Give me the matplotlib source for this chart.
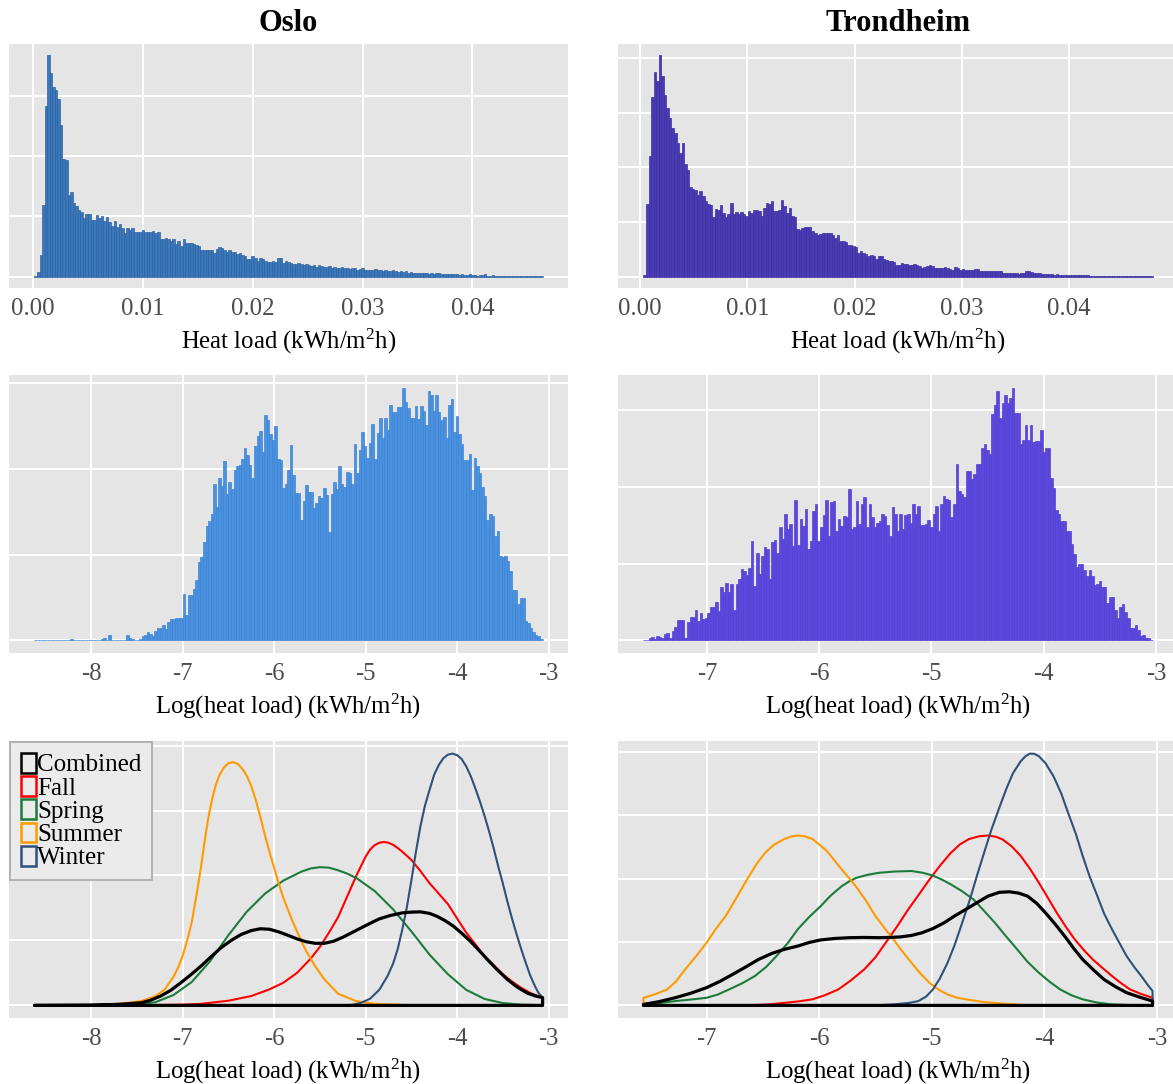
import matplotlib
matplotlib.use("Agg")
import matplotlib.pyplot as plt
import numpy as np
from matplotlib.patches import Patch
from matplotlib.ticker import MultipleLocator, FixedLocator, FormatStrFormatter

plt.rcParams['font.family'] = ['Liberation Serif', 'DejaVu Serif']
plt.rcParams['axes.unicode_minus'] = False
plt.rcParams['mathtext.fontset'] = 'custom'
plt.rcParams['mathtext.rm'] = 'Liberation Serif'

# ---------------- data ----------------
cities = ["Oslo", "Trondheim"]

# heat load histograms (kWh/m2h), equal bins between the data range
oslo_load_range = (0.0001, 0.0464)
oslo_load_counts = [
    2, 8, 37, 119, 282, 367, 337, 314, 309, 295,
    251, 195, 193, 136, 141, 122, 118, 111, 107, 97,
    104, 104, 94, 94, 102, 98, 100, 92, 99, 91,
    84, 92, 83, 87, 81, 73, 81, 78, 81, 75,
    74, 74, 77, 74, 75, 74, 76, 73, 74, 62,
    63, 64, 62, 59, 62, 55, 60, 51, 62, 56,
    56, 56, 55, 53, 51, 45, 45, 45, 45, 44,
    40, 46, 50, 48, 44, 42, 44, 41, 42, 38,
    40, 37, 35, 30, 29, 34, 31, 27, 31, 29,
    27, 25, 25, 26, 24, 31, 31, 23, 26, 25,
    23, 22, 22, 23,
    21, 20, 22, 19, 18, 20, 17, 19, 18, 16, 17, 18, 15, 16, 14, 15,
    16, 14, 15, 13, 14, 15, 12, 13, 14, 12, 11, 12, 11, 13, 12,
    11, 10, 11, 9, 10, 11, 9, 8, 9, 8, 9, 7, 8, 7, 7,
    6, 7, 6, 6, 5, 6, 5, 6, 7, 5, 4, 5, 4, 4, 5,
    4, 3, 4, 3, 3, 4, 3, 3, 2, 3, 3, 4, 2, 2, 3,
    2, 2, 2, 1, 2, 2, 1, 2, 1, 1, 2, 1, 1, 1, 1, 1, 1, 1, 1]

trondheim_load_range = (0.00031, 0.04778)
trondheim_load_counts = [
    4, 134, 221, 328, 375, 357, 405, 366, 333, 308,
    291, 272, 263, 244, 227, 244, 207, 196, 164, 160,
    158, 150, 156, 147, 138, 134, 132, 109, 124, 123,
    131, 117, 109, 114, 135, 114, 118, 115, 119, 115,
    111, 121, 117, 123, 122, 120, 111, 126, 135, 134,
    138, 120, 120, 122, 140, 130, 117, 125, 111, 109,
    88, 85, 89, 91, 91, 91, 83, 81, 77, 78,
    81, 81, 80, 81, 77, 71, 76, 66, 66, 63,
    59, 58, 56, 55, 44, 47, 43, 41, 39, 40,
    38, 33, 38, 39, 33, 30, 29, 29, 27, 22,
    22, 25, 23, 24, 22, 21, 23, 22, 20, 16,
    19, 20, 21, 20, 17, 16, 17, 16, 18, 17,
    14, 13, 18, 17, 13, 14, 12, 12, 13, 12,
    14, 15, 11, 10, 10, 11, 10, 11, 11, 10,
    10, 8, 7, 7, 8, 7, 7, 6, 7, 7,
    11, 10, 9, 8, 8, 7, 6, 6, 5, 5,
    5, 4, 5, 4, 3, 3, 3, 4, 3, 3,
    3, 4, 3, 4, 3, 2, 2, 2, 2, 2,
    2, 1, 2, 1, 2, 1, 1, 1, 1, 1,
    1, 1, 1, 1, 1, 1, 1, 1, 1, 1]

# log(heat load) histograms
oslo_log_range = (-8.62, -3.065)
oslo_log_counts = [
    1, 0, 0, 0, 0, 0, 0, 0, 0, 0,
    0, 0, 0, 1, 2, 1, 0, 1, 0, 0,
    0, 0, 0, 0, 1, 1, 2, 3, 1, 6,
    0, 0, 0, 1, 1, 1, 6, 3, 2, 1,
    1, 2, 5, 6, 10, 7, 5, 11, 14, 14,
    18, 13, 22, 25, 25, 26, 26, 26,
    54, 30, 53, 53, 60, 70, 91, 97, 115, 133,
    139, 148, 183, 156, 189, 180, 209, 171, 185, 177,
    199, 204, 205, 212, 225, 216, 205, 189, 227, 238,
    244, 220, 263, 257, 241, 234, 250, 212, 211, 178,
    183, 199, 228, 193, 172, 172,
    140, 163, 181, 173, 173, 155, 160, 168, 166, 178,
    170, 126, 171, 185, 177, 203, 183, 179, 197, 195,
    183, 229, 195, 222, 243, 227, 213, 230, 252, 212,
    242, 260, 236, 260, 246, 275, 267, 266, 272, 272,
    295, 278, 271, 259, 259, 273, 258, 273, 268, 251,
    291, 286, 268, 286, 267, 257, 261, 236, 275, 282,
    243, 262, 241, 229, 210, 210, 217, 175, 213, 204,
    195, 179, 169, 140, 148, 145, 122, 128, 99, 97,
    98, 93, 81, 59, 59, 42, 50, 49, 23, 20,
    15, 10, 6, 5, 2]

trondheim_log_range = (-7.565, -3.03)
trondheim_log_counts = [
    1, 1, 3, 5, 2, 6, 5, 3, 8, 10,
    3, 12, 18, 26, 27, 27, 3, 24, 30, 30,
    39, 25, 35, 28, 29, 36, 43, 44, 50, 38,
    69, 63, 75, 63, 73, 40, 74, 80, 93, 90,
    85, 94, 130, 71, 114, 86, 110, 122, 119, 80,
    128, 131, 114, 148, 132, 165, 145, 151, 123, 183,
    124, 158, 149, 171, 119, 129, 169, 178, 130, 147,
    163, 183, 136, 180, 182, 143, 158, 149, 162, 160,
    197, 145, 147, 182, 151, 177, 187, 147, 177, 160,
    147, 153, 156, 164, 162, 150, 136, 173, 164, 143,
    164, 145, 163, 165, 153, 178, 165, 175, 150, 150,
    151, 157, 147, 165, 175, 142, 178, 188, 184, 183,
    160, 177, 229, 194, 191, 187, 221, 220, 210, 217,
    230, 230, 250, 256, 248, 243, 295, 306, 324, 290,
    309, 319, 309, 315, 329, 296, 296, 255, 261, 280,
    261, 280, 258, 260, 260, 274, 245, 250, 250, 212,
    198, 170, 165, 155, 155, 142, 142, 126, 113, 95,
    100, 100, 91, 84, 92, 84, 72, 74, 77, 69,
    70, 49, 57, 56, 40, 29, 43, 47, 37, 29,
    16, 16, 20, 13, 6, 7, 3, 3, 1]

# seasonal densities of log(heat load)
seasons = ["Combined", "Fall", "Spring", "Summer", "Winter"]

oslo_comb_x = [-8.62, -8.0, -7.7, -7.45, -7.35, -7.24, -7.13, -7.02, -6.91, -6.8, -6.69, -6.58, -6.47,
               -6.36, -6.25, -6.15, -6.05, -5.95, -5.85, -5.75, -5.65, -5.55, -5.45, -5.35, -5.25,
               -5.15, -5.05, -4.95, -4.85, -4.73, -4.6, -4.5, -4.4, -4.3, -4.22, -4.13, -4.04,
               -3.95, -3.855, -3.76, -3.67, -3.56, -3.45, -3.34, -3.23, -3.14, -3.065]
oslo_comb_y = [0.0, 0.001, 0.004, 0.01, 0.02, 0.036, 0.058, 0.087, 0.118, 0.151, 0.187, 0.222, 0.25,
               0.273, 0.288, 0.295, 0.293, 0.283, 0.27, 0.256, 0.245, 0.239, 0.239, 0.247, 0.262,
               0.28, 0.298, 0.316, 0.333, 0.346, 0.356, 0.359, 0.36, 0.354, 0.343, 0.326, 0.305,
               0.278, 0.247, 0.212, 0.177, 0.137, 0.1, 0.07, 0.047, 0.036, 0.03]
oslo_fall_x = [-8.62, -7.4, -7.0, -6.8, -6.5, -6.25, -6.05, -5.9, -5.75, -5.6, -5.5, -5.4, -5.3, -5.2,
               -5.1, -5.0, -4.95, -4.9, -4.85, -4.8, -4.75, -4.7, -4.65, -4.6, -4.5, -4.4, -4.3,
               -4.2, -4.1, -4.0, -3.9, -3.8, -3.7, -3.6, -3.5, -3.4, -3.3, -3.2, -3.13, -3.065]
oslo_fall_y = [0.0, 0.001, 0.003, 0.006, 0.018, 0.036, 0.062, 0.087, 0.125, 0.18, 0.225, 0.28, 0.34, 0.42,
               0.5, 0.572, 0.6, 0.617, 0.626, 0.629, 0.626, 0.618, 0.606, 0.592, 0.56, 0.517, 0.47,
               0.43, 0.39, 0.335, 0.28, 0.235, 0.19, 0.155, 0.12, 0.092, 0.068, 0.048, 0.038, 0.03]
oslo_spring_x = [-8.62, -7.8, -7.5, -7.3, -7.1, -6.9, -6.7, -6.5, -6.3, -6.1, -5.9, -5.7, -5.6, -5.5,
                 -5.4, -5.3, -5.2, -5.1, -4.9, -4.7, -4.5, -4.3, -4.1, -3.9, -3.7, -3.5, -3.3, -3.065]
oslo_spring_y = [0.0, 0.001, 0.004, 0.012, 0.04, 0.09, 0.17, 0.27, 0.36, 0.43, 0.48, 0.515, 0.527, 0.532,
                 0.53, 0.52, 0.507, 0.49, 0.44, 0.37, 0.285, 0.195, 0.12, 0.06, 0.025, 0.009, 0.003, 0.001]
oslo_summer_x = [-8.62, -8.0, -7.8, -7.6, -7.45, -7.3, -7.2, -7.1, -7.05, -7.0, -6.95, -6.9, -6.85, -6.8,
                 -6.76, -6.72, -6.68, -6.64, -6.6, -6.55, -6.5, -6.45, -6.4, -6.35, -6.3, -6.25, -6.2,
                 -6.15, -6.1, -6.05, -6.0, -5.95, -5.9, -5.85, -5.8, -5.75, -5.7, -5.65, -5.55, -5.45,
                 -5.3, -5.1, -4.9, -4.5, -3.065]
oslo_summer_y = [0.0, 0.001, 0.004, 0.01, 0.017, 0.035, 0.06, 0.11, 0.145, 0.19, 0.25, 0.32, 0.42, 0.53,
                 0.63, 0.72, 0.79, 0.845, 0.885, 0.915, 0.932, 0.936, 0.93, 0.912, 0.885, 0.845, 0.79,
                 0.725, 0.655, 0.59, 0.53, 0.47, 0.415, 0.37, 0.325, 0.285, 0.245, 0.21, 0.15, 0.1,
                 0.045, 0.016, 0.006, 0.001, 0.0]
oslo_winter_x = [-8.62, -5.3, -5.15, -5.05, -4.95, -4.85, -4.76, -4.7, -4.65, -4.6, -4.55, -4.5, -4.45,
                 -4.4, -4.35, -4.3, -4.25, -4.2, -4.15, -4.1, -4.05, -4.0, -3.95, -3.9, -3.85, -3.8,
                 -3.75, -3.7, -3.65, -3.6, -3.55, -3.5, -3.45, -3.4, -3.35, -3.3, -3.25, -3.2, -3.15,
                 -3.11, -3.065]
oslo_winter_y = [0.0, 0.0, 0.002, 0.01, 0.026, 0.06, 0.113, 0.16, 0.215, 0.29, 0.375, 0.48, 0.59,
                 0.69, 0.77, 0.83, 0.888, 0.925, 0.951, 0.965, 0.969, 0.963, 0.948, 0.92, 0.882, 0.835,
                 0.785, 0.73, 0.67, 0.605, 0.535, 0.47, 0.4, 0.335, 0.275, 0.218, 0.165, 0.115, 0.075,
                 0.048, 0.03]

tr_comb_x = [-7.56, -7.42, -7.28, -7.14, -7.0, -6.88, -6.77, -6.65, -6.54, -6.42, -6.31, -6.19, -6.09,
             -5.99, -5.86, -5.73, -5.6, -5.47, -5.38, -5.28, -5.18, -5.09, -4.99, -4.89, -4.8, -4.7,
             -4.6, -4.5, -4.4, -4.31, -4.23, -4.15, -4.07, -3.99, -3.9, -3.82, -3.74, -3.66, -3.56,
             -3.47, -3.37, -3.27, -3.15, -3.04]
tr_comb_y = [0.004, 0.015, 0.03, 0.048, 0.07, 0.095, 0.122, 0.152, 0.181, 0.205, 0.221, 0.234, 0.248,
             0.258, 0.264, 0.267, 0.268, 0.267, 0.268, 0.27, 0.276, 0.286, 0.303, 0.326, 0.352, 0.378,
             0.405, 0.431, 0.446, 0.448, 0.443, 0.431, 0.403, 0.365, 0.318, 0.273, 0.225, 0.181, 0.138,
             0.102, 0.074, 0.05, 0.032, 0.017]
tr_fall_x = [-7.56, -6.64, -6.45, -6.31, -6.18, -6.06, -5.95, -5.83, -5.72, -5.6, -5.5, -5.41, -5.31,
             -5.21, -5.11, -5.02, -4.92, -4.83, -4.75, -4.67, -4.58, -4.5, -4.43, -4.37, -4.29, -4.21,
             -4.13, -4.05, -3.97, -3.89, -3.81, -3.73, -3.65, -3.57, -3.48, -3.4, -3.32, -3.24,
             -3.14, -3.04]
tr_fall_y = [0.0, 0.0, 0.004, 0.01, 0.016, 0.024, 0.04, 0.063, 0.098, 0.142, 0.19, 0.247, 0.31,
             0.378, 0.44, 0.497, 0.555, 0.602, 0.635, 0.656, 0.667, 0.67, 0.665, 0.654, 0.627, 0.589,
             0.54, 0.484, 0.425, 0.365, 0.31, 0.26, 0.218, 0.181, 0.146, 0.116, 0.088, 0.063,
             0.045, 0.03]
tr_spring_x = [-7.56, -7.4, -7.28, -7.1, -7.0, -6.9, -6.8, -6.68, -6.57, -6.47, -6.38, -6.28, -6.19,
               -6.09, -5.99, -5.9, -5.8, -5.73, -5.67, -5.57, -5.47, -5.33, -5.18, -5.08, -4.99, -4.91,
               -4.83, -4.73, -4.63, -4.54, -4.44, -4.34, -4.24, -4.15, -4.05, -3.95, -3.86, -3.76,
               -3.66, -3.53, -3.4, -3.2, -3.04]
tr_spring_y = [0.0, 0.01, 0.017, 0.025, 0.03, 0.043, 0.063, 0.088, 0.116, 0.152, 0.194, 0.245, 0.3,
               0.348, 0.39, 0.432, 0.47, 0.49, 0.503, 0.515, 0.523, 0.528, 0.53, 0.523, 0.512, 0.496,
               0.477, 0.45, 0.418, 0.375, 0.326, 0.272, 0.22, 0.172, 0.129, 0.092, 0.063, 0.04,
               0.024, 0.011, 0.004, 0.001, 0.0]
tr_summer_x = [-7.56, -7.45, -7.35, -7.27, -7.19, -7.1, -7.0, -6.92, -6.83, -6.74, -6.64, -6.56, -6.48,
               -6.4, -6.31, -6.25, -6.195, -6.13, -6.06, -6.0, -5.93, -5.87, -5.8, -5.73, -5.67, -5.58,
               -5.5, -5.42, -5.34, -5.26, -5.18, -5.1, -5.02, -4.94, -4.86, -4.78, -4.7, -4.55, -4.37,
               -4.2, -4.05, -3.04]
tr_summer_y = [0.03, 0.045, 0.063, 0.095, 0.142, 0.19, 0.247, 0.3, 0.352, 0.42, 0.497, 0.555, 0.602,
               0.634, 0.656, 0.666, 0.67, 0.667, 0.656, 0.635, 0.608, 0.575, 0.536, 0.5, 0.467, 0.41,
               0.352, 0.305, 0.26, 0.212, 0.168, 0.125, 0.089, 0.062, 0.043, 0.031, 0.024, 0.014, 0.007,
               0.002, 0.0, 0.0]
tr_winter_x = [-7.56, -5.5, -5.34, -5.2, -5.12, -5.05, -4.99, -4.93, -4.86, -4.8, -4.73, -4.66, -4.6,
               -4.53, -4.47, -4.4, -4.34, -4.28, -4.21, -4.17, -4.13, -4.09, -4.05, -3.99, -3.92, -3.85,
               -3.79, -3.72, -3.66, -3.6, -3.53, -3.47, -3.4, -3.33, -3.27, -3.2, -3.14, -3.09, -3.04]
tr_winter_y = [0.0, 0.0, 0.004, 0.01, 0.017, 0.035, 0.063, 0.105, 0.168, 0.235, 0.326, 0.42, 0.51,
               0.61, 0.694, 0.78, 0.852, 0.915, 0.963, 0.982, 0.993, 0.992, 0.983, 0.955, 0.904, 0.835,
               0.76, 0.675, 0.589, 0.51, 0.431, 0.362, 0.3, 0.243, 0.194, 0.15, 0.116, 0.085, 0.057]

load_ticks = [0.00, 0.01, 0.02, 0.03, 0.04]
oslo_log_ticks = [-8, -7, -6, -5, -4, -3]
trondheim_log_ticks = [-7, -6, -5, -4, -3]

# ---------------- style ----------------
season_colors = {"Combined": "black", "Fall": "#ff0000", "Spring": "#1b7b3a",
                 "Summer": "#ff9a00", "Winter": "#2f5179"}
season_lw = {"Combined": 2.3, "Fall": 1.5, "Spring": 1.5, "Summer": 1.5, "Winter": 1.5}
PANEL = "#e5e5e5"

W, H = 1173, 1084
fig = plt.figure(figsize=(W / 100, H / 100), dpi=100)

def axes_px(left, top, right, bottom):
    return fig.add_axes([left / W, 1 - bottom / H, (right - left) / W, (bottom - top) / H])

def style(ax, grid_step):
    ax.set_facecolor(PANEL)
    for s in ax.spines.values():
        s.set_visible(False)
    ax.grid(True, color="white", lw=1.4)
    ax.set_axisbelow(True)
    ax.yaxis.set_major_locator(MultipleLocator(grid_step))
    ax.tick_params(length=0, labelsize=17.8, pad=7, labelcolor="#4d4d4d")
    ax.tick_params(axis="y", labelleft=False)

def draw_hist(ax, rng, counts, fc, ec, ticks, fmt, xlabel):
    counts = np.asarray(counts, float)
    lo, hi = rng
    edges = np.linspace(lo, hi, len(counts) + 1)
    centers = 0.5 * (edges[:-1] + edges[1:])
    ax.hist(centers, bins=edges, weights=counts, color=fc, edgecolor=ec, linewidth=0.5)
    span = hi - lo
    ax.set_xlim(lo - 0.05 * span, hi + 0.05 * span)
    top = counts.max()
    ax.set_ylim(-0.05 * top, 1.05 * top)
    style(ax, 100)
    ax.xaxis.set_major_locator(FixedLocator(ticks))
    ax.xaxis.set_major_formatter(FormatStrFormatter(fmt))
    ax.set_xlabel(xlabel, fontsize=17.8, labelpad=5)

def draw_dens(ax, curves, ticks, xlabel):
    xmin = min(min(c[0]) for c in curves.values())
    xmax = max(max(c[0]) for c in curves.values())
    ymax = max(max(c[1]) for c in curves.values())
    order = ["Fall", "Spring", "Summer", "Winter", "Combined"]
    for name in order:
        xs, ys = curves[name]
        xs = list(xs); ys = list(ys)
        ax.fill(xs + [xs[-1], xs[0]], ys + [0.0, 0.0], facecolor="none",
                edgecolor=season_colors[name], lw=season_lw[name], joinstyle="round",
                zorder=3 if name == "Combined" else 2)
    span = xmax - xmin
    ax.set_xlim(xmin - 0.05 * span, xmax + 0.05 * span)
    ax.set_ylim(-0.05 * ymax, 1.05 * ymax)
    style(ax, 0.25)
    ax.xaxis.set_major_locator(FixedLocator(ticks))
    ax.xaxis.set_major_formatter(FormatStrFormatter("%d"))
    ax.set_xlabel(xlabel, fontsize=17.8, labelpad=5)

lin_label = "Heat load (kWh/m$\\mathregular{^2}$h)"
log_label = "Log(heat load) (kWh/m$\\mathregular{^2}$h)"

cols = [(9, 568), (618, 1178)]
rows = [(44, 288), (375, 653), (741, 1018)]

# row 1
ax = axes_px(cols[0][0], rows[0][0], cols[0][1], rows[0][1])
draw_hist(ax, oslo_load_range, oslo_load_counts, "#3a78bb", "#2e63a3", load_ticks, "%.2f", lin_label)
ax = axes_px(cols[1][0], rows[0][0], cols[1][1], rows[0][1])
draw_hist(ax, trondheim_load_range, trondheim_load_counts, "#4a3bb5", "#3c2f9f", load_ticks, "%.2f", lin_label)

# row 2
ax = axes_px(cols[0][0], rows[1][0], cols[0][1], rows[1][1])
draw_hist(ax, oslo_log_range, oslo_log_counts, "#4a91e0", "#3d84d4", oslo_log_ticks, "%d", log_label)
ax = axes_px(cols[1][0], rows[1][0], cols[1][1], rows[1][1])
draw_hist(ax, trondheim_log_range, trondheim_log_counts, "#5c47df", "#5140cf", trondheim_log_ticks, "%d", log_label)

# row 3
oslo_curves = {"Combined": (oslo_comb_x, oslo_comb_y), "Fall": (oslo_fall_x, oslo_fall_y),
               "Spring": (oslo_spring_x, oslo_spring_y), "Summer": (oslo_summer_x, oslo_summer_y),
               "Winter": (oslo_winter_x, oslo_winter_y)}
tr_curves = {"Combined": (tr_comb_x, tr_comb_y), "Fall": (tr_fall_x, tr_fall_y),
             "Spring": (tr_spring_x, tr_spring_y), "Summer": (tr_summer_x, tr_summer_y),
             "Winter": (tr_winter_x, tr_winter_y)}
ax_o = axes_px(cols[0][0], rows[2][0], cols[0][1], rows[2][1])
draw_dens(ax_o, oslo_curves, oslo_log_ticks, log_label)
ax_t = axes_px(cols[1][0], rows[2][0], cols[1][1], rows[2][1])
draw_dens(ax_t, tr_curves, trondheim_log_ticks, log_label)

handles = [Patch(facecolor="none", edgecolor=season_colors[s], linewidth=1.8) for s in seasons]
leg = ax_o.legend(handles, seasons, loc="upper left", bbox_to_anchor=(0.0, 1.0), borderaxespad=0.05,
                  frameon=True, fancybox=False, edgecolor="#a8a8a8", facecolor="#ebebeb", framealpha=1,
                  fontsize=18, handlelength=0.6, handleheight=0.84, handletextpad=0.05,
                  labelspacing=-0.01, borderpad=0.42)
leg.get_frame().set_linewidth(1.2)

# titles
for (l, r), city in zip(cols, cities):
    fig.text(((l + r) / 2) / W, 1 - 31 / H, city, ha="center", va="baseline",
             fontsize=22, fontweight="bold")

fig.savefig("out.png", dpi=100)
